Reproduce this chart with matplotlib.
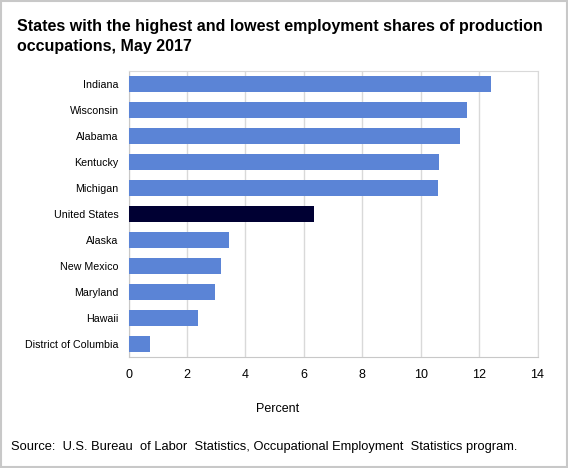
import matplotlib.pyplot as plt
from matplotlib.patches import Rectangle

plt.rcParams['font.family'] = ['Liberation Sans', 'DejaVu Sans']

states = ["Indiana", "Wisconsin", "Alabama", "Kentucky", "Michigan", "United States",
          "Alaska", "New Mexico", "Maryland", "Hawaii", "District of Columbia"]
shares = [12.42, 11.6, 11.36, 10.64, 10.6, 6.36, 3.45, 3.17, 2.97, 2.39, 0.74]
xticks = [0, 2, 4, 6, 8, 10, 12, 14]

colors = ["#000033" if s == "United States" else "#5b84d6" for s in states]

fig = plt.figure(figsize=(5.68, 4.68), dpi=100)
ax = fig.add_axes([128.5 / 568, 1 - 357 / 468, (537.5 - 128.5) / 568, (357 - 71) / 468])

ypos = list(range(len(states)))
ax.barh(ypos, shares, height=0.65, color=colors, zorder=3)
ax.set_ylim(len(states) - 0.5, -0.5)
ax.set_xlim(0, 14)
ax.set_xticks(xticks)
ax.set_xticklabels([str(t) for t in xticks], fontsize=9)
ax.set_yticks(ypos)
ax.set_yticklabels(states, fontsize=7.7)
ax.tick_params(axis="both", length=0)
ax.tick_params(axis="x", pad=9)
ax.tick_params(axis="y", pad=7)
ax.grid(axis="x", color="#d9d9d9", linewidth=1, zorder=0)
for side in ["top", "right"]:
    ax.spines[side].set_color("#d9d9d9")
for side in ["left", "bottom"]:
    ax.spines[side].set_color("#c8c8c8")

fig.text(278 / 568, 1 - 409 / 468, "Percent", ha="center", va="center", fontsize=9)
fig.text(17 / 568, 1 - 19 / 468,
         "States with the highest and lowest employment shares of production\noccupations, May 2017",
         ha="left", va="top", fontsize=11.5, fontweight="bold", linespacing=1.4)
fig.text(11 / 568, 1 - 447 / 468,
         "Source:  U.S. Bureau  of Labor  Statistics, Occupational Employment  Statistics program.",
         ha="left", va="center", fontsize=9.3)

fig.add_artist(Rectangle((0.002, 0.002), 0.996, 0.996, transform=fig.transFigure,
                         fill=False, edgecolor="#c8c8c8", linewidth=1.5))

fig.savefig("out.png", dpi=100)
